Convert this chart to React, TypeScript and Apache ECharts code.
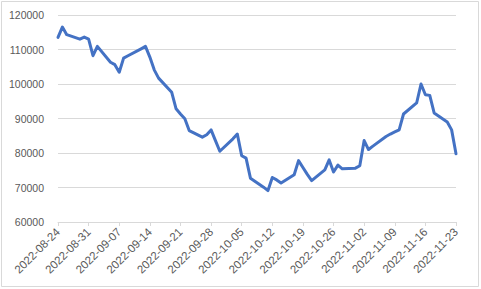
import React, { useEffect, useRef } from "react";
import * as echarts from "echarts";

const tradeDates: string[] = [
  "2022-08-24", "2022-08-25", "2022-08-26",
  "2022-08-29", "2022-08-30", "2022-08-31", "2022-09-01", "2022-09-02",
  "2022-09-05", "2022-09-06", "2022-09-07", "2022-09-08", "2022-09-09",
  "2022-09-12", "2022-09-13", "2022-09-14", "2022-09-15", "2022-09-16",
  "2022-09-19", "2022-09-20", "2022-09-21", "2022-09-22", "2022-09-23",
  "2022-09-26", "2022-09-27", "2022-09-28", "2022-09-29", "2022-09-30",
  "2022-10-03", "2022-10-04", "2022-10-05", "2022-10-06", "2022-10-07",
  "2022-10-10", "2022-10-11", "2022-10-12", "2022-10-13", "2022-10-14",
  "2022-10-17", "2022-10-18", "2022-10-19", "2022-10-20", "2022-10-21",
  "2022-10-24", "2022-10-25", "2022-10-26", "2022-10-27", "2022-10-28",
  "2022-10-31", "2022-11-01", "2022-11-02", "2022-11-03", "2022-11-04",
  "2022-11-07", "2022-11-08", "2022-11-09", "2022-11-10", "2022-11-11",
  "2022-11-14", "2022-11-15", "2022-11-16", "2022-11-17", "2022-11-18",
  "2022-11-21", "2022-11-22", "2022-11-23",
];

const priceValues: number[] = [
  113500, 116500, 114300,
  113000, 113600, 113000, 108200, 110900,
  106300, 105600, 103400, 107500, 108200,
  110200, 110900, 107800, 104100, 101700,
  97600, 92800, 91300, 89900, 86500,
  84600, 85300, 86700, 83600, 80500,
  84100, 85500, 79200, 78500, 72700,
  70100, 69100, 72900, 72200, 71300,
  73700, 77800, 75800, 73800, 72000,
  75100, 78000, 74500, 76500, 75400,
  75600, 76300, 83600, 81000, 82000,
  84800, 85500, 86100, 86700, 91300,
  94500, 100000, 96900, 96700, 91600,
  89000, 86700, 79800,
];

const yMin = 60000;
const yMax = 120000;
const yStep = 10000;

function buildCalendar(start: string, end: string): string[] {
  const out: string[] = [];
  const d = new Date(start + "T00:00:00Z");
  const e = new Date(end + "T00:00:00Z");
  while (d.getTime() <= e.getTime()) {
    out.push(d.toISOString().slice(0, 10));
    d.setUTCDate(d.getUTCDate() + 1);
  }
  return out;
}

export default function App() {
  const ref = useRef<HTMLDivElement>(null);
  useEffect(() => {
    if (!ref.current) return;
    const chart = echarts.init(ref.current, undefined, { renderer: "svg" });
    const calendar = buildCalendar(tradeDates[0], tradeDates[tradeDates.length - 1]);
    const map: Record<string, number> = {};
    tradeDates.forEach((d, i) => (map[d] = priceValues[i]));
    const seriesData = calendar.map((d) => (d in map ? map[d] : null));
    const font = "'Liberation Sans', Arial, sans-serif";
    chart.setOption({
      animation: false,
      backgroundColor: "#ffffff",
      graphic: [
        {
          type: "rect",
          shape: { x: 1.5, y: 1.5, width: 477, height: 285 },
          style: { fill: "none", stroke: "#D9D9D9", lineWidth: 1 },
          silent: true,
        },
      ],
      grid: { left: 58, right: 25, top: 15, bottom: 67, containLabel: false },
      xAxis: {
        type: "category",
        data: calendar,
        boundaryGap: false,
        axisLine: { show: true, lineStyle: { color: "#D9D9D9", width: 1 } },
        axisTick: { show: true, interval: 6, length: 4, lineStyle: { color: "#D9D9D9" } },
        axisLabel: {
          interval: 6,
          rotate: 45,
          fontSize: 11.5,
          color: "#595959",
          margin: 8,
          fontFamily: font,
        },
        splitLine: { show: false },
      },
      yAxis: {
        type: "value",
        min: yMin,
        max: yMax,
        interval: yStep,
        axisLine: { show: false },
        axisTick: { show: false },
        axisLabel: {
          fontSize: 10.5,
          color: "#595959",
          margin: 14,
          fontFamily: font,
          formatter: (v: number) => String(v),
        },
        splitLine: { show: true, lineStyle: { color: "#D9D9D9", width: 1 } },
      },
      series: [
        {
          type: "line",
          data: seriesData,
          connectNulls: true,
          showSymbol: false,
          symbol: "none",
          lineStyle: { color: "#4472C4", width: 3, cap: "round", join: "round" },
          itemStyle: { color: "#4472C4" },
        },
      ],
    });
    return () => chart.dispose();
  }, []);
  return (
    <div
      ref={ref}
      style={{ position: "fixed", left: 0, top: 0, width: 481, height: 289 }}
    />
  );
}
